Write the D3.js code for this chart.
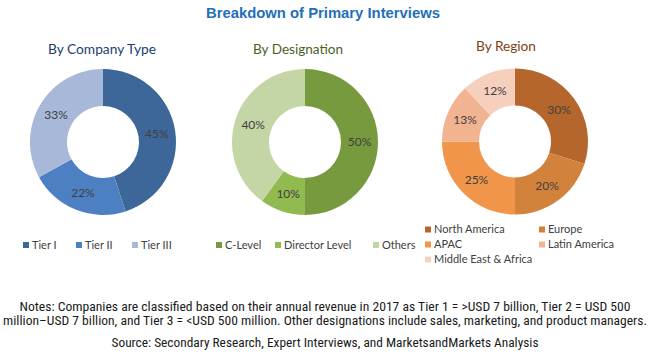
<!DOCTYPE html>
<html><head><meta charset="utf-8">
<script src="https://cdn.jsdelivr.net/npm/d3@7"></script>
<style>html,body{margin:0;padding:0;background:#fff;}svg{display:block;}</style>
</head><body>
<script>
// ---- data ----
const companyTypes = ["Tier I", "Tier II", "Tier III"];
const companyValues = [45, 22, 33];
const designations = ["C-Level", "Director Level", "Others"];
const designationValues = [50, 10, 40];
const regions = ["North America", "Europe", "APAC", "Latin America", "Middle East & Africa"];
const regionValues = [30, 20, 25, 13, 12];

const title = "Breakdown of Primary Interviews";
const notes1 = "Notes: Companies are classified based on their annual revenue in 2017 as Tier 1 = >USD 7 billion, Tier 2 = USD 500";
const notes2 = "million\u2013USD 7 billion, and Tier 3 = <USD 500 million. Other designations include sales, marketing, and product managers.";
const source = "Source: Secondary Research, Expert Interviews, and MarketsandMarkets Analysis";

const W = 650, H = 355;
const svg = d3.select("body").append("svg").attr("width", W).attr("height", H);
const calibri = "Lato, 'Open Sans', sans-serif";
const narrow = "'Liberation Sans Narrow', 'Roboto Condensed', 'Liberation Sans', Arial, sans-serif";

svg.append("text").attr("x", 323).attr("y", 18).attr("text-anchor", "middle")
  .attr("font-family", "'Liberation Sans', Arial, sans-serif").attr("font-weight", "bold")
  .attr("font-size", 14).attr("fill", "#1f70b8")
  .attr("textLength", 234).attr("lengthAdjust", "spacingAndGlyphs").text(title);

const charts = [
  {sub: "By Company Type", subColor: "#22406e", subX: 102, subY: 54, subW: 108, cx: 103, cy: 142,
   cats: companyTypes, vals: companyValues, colors: ["#3d6699", "#4d80c3", "#a7b8d8"],
   legend: [[23, 245], [76, 245], [132, 245]]},
  {sub: "By Designation", subColor: "#4a5e26", subX: 298, subY: 54, subW: 90, cx: 305, cy: 142,
   cats: designations, vals: designationValues, colors: ["#789a3e", "#91bb50", "#c4d6a5"],
   legend: [[216, 245], [275, 245], [373, 245]]},
  {sub: "By Region", subColor: "#7f3f12", subX: 506, subY: 51, subW: 60, cx: 515, cy: 141.5,
   cats: regions, vals: regionValues, colors: ["#b5662d", "#d3823b", "#f0954a", "#f2b490", "#f7cfbd"],
   legend: [[425, 229.5], [539, 229.5], [425, 244.5], [539, 244.5], [425, 259.5]]}
];

const pie = d3.pie().sort(null).value(d => d);
const arc = d3.arc().innerRadius(36).outerRadius(73);
const labelArc = d3.arc().innerRadius(36).outerRadius(73);

charts.forEach(c => {
  svg.append("text").attr("x", c.subX).attr("y", c.subY).attr("text-anchor", "middle")
    .attr("font-family", calibri).attr("font-size", 14).attr("fill", c.subColor)
    .attr("textLength", c.subW).attr("lengthAdjust", "spacingAndGlyphs").text(c.sub);
  const g = svg.append("g").attr("transform", `translate(${c.cx},${c.cy})`);
  const arcs = pie(c.vals);
  g.selectAll("path").data(arcs).join("path")
    .attr("d", arc).attr("fill", (d, i) => c.colors[i]);
  g.selectAll("text").data(arcs).join("text")
    .attr("transform", d => `translate(${labelArc.centroid(d)})`)
    .attr("text-anchor", "middle").attr("dy", "0.36em")
    .attr("font-family", calibri).attr("font-size", 12).attr("fill", "#404040")
    .text(d => d.data + "%");
  const lg = svg.append("g");
  c.cats.forEach((name, i) => {
    const [x, y] = c.legend[i];
    lg.append("rect").attr("x", x).attr("y", y - 3).attr("width", 6).attr("height", 6)
      .attr("fill", c.colors[i]);
    lg.append("text").attr("x", x + 9).attr("y", y).attr("dy", "0.36em")
      .attr("font-family", calibri).attr("font-size", 11).attr("fill", "#404040").text(name);
  });
});

const notes = [[notes1, 311, 611], [notes2, 324.5, 644], [source, 347, 427]];
notes.forEach(([t, y, w]) => {
  svg.append("text").attr("x", 325).attr("y", y).attr("text-anchor", "middle")
    .attr("font-family", narrow).attr("font-size", 12).attr("fill", "#1a1a1a")
    .attr("textLength", w).attr("lengthAdjust", "spacingAndGlyphs").text(t);
});
</script>
</body></html>
